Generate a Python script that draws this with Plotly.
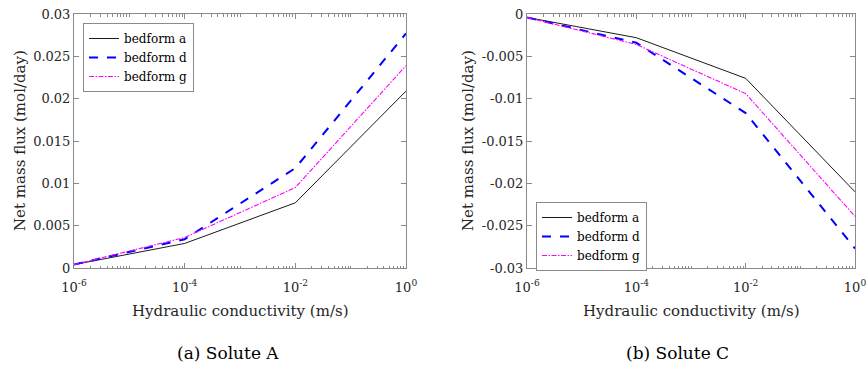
import plotly.graph_objects as go

# ---- data ----
K = [1e-6, 1e-4, 1e-2, 1e0]
series_names = ["bedform a", "bedform d", "bedform g"]
soluteA = {
    "bedform a": [0.0004, 0.0029, 0.0077, 0.0209],
    "bedform d": [0.0004, 0.0034, 0.0118, 0.0277],
    "bedform g": [0.0004, 0.0036, 0.0095, 0.0239],
}
soluteC = {
    "bedform a": [-0.0004, -0.0028, -0.0076, -0.0210],
    "bedform d": [-0.0004, -0.0034, -0.0117, -0.0277],
    "bedform g": [-0.0004, -0.0036, -0.0094, -0.0239],
}
x_tickvals = [1e-6, 1e-4, 1e-2, 1e0]
x_ticktext = ["10<sup>-6</sup>", "10<sup>-4</sup>", "10<sup>-2</sup>", "10<sup>0</sup>"]
yA_tickvals = [0, 0.005, 0.01, 0.015, 0.02, 0.025, 0.03]
yA_ticktext = ["0", "0.005", "0.01", "0.015", "0.02", "0.025", "0.03"]
yC_tickvals = [-0.03, -0.025, -0.02, -0.015, -0.01, -0.005, 0]
yC_ticktext = ["-0.03", "-0.025", "-0.02", "-0.015", "-0.01", "-0.005", "0"]
captions = ["(a) Solute A", "(b) Solute C"]
x_title = "Hydraulic conductivity (m/s)"
y_title = "Net mass flux (mol/day)"

# ---- styles ----
FONT = "DejaVu Serif, serif"
TXT = "#262626"
AX = "#8a8a8a"
styles = {
    "bedform a": dict(color="black", width=0.9, dash="solid"),
    "bedform d": dict(color="#0000ff", width=2, dash="dash"),
    "bedform g": dict(color="rgb(255,0,255)", width=1.1, dash="5px,1.5px,1.5px,1.5px"),
}

W, H = 868, 366
def px(x): return x / W
def py(y): return 1 - y / H

fig = go.Figure()
for name in series_names:
    fig.add_trace(go.Scatter(x=K, y=soluteA[name], mode="lines", name=name,
                             line=styles[name], xaxis="x", yaxis="y",
                             legend="legend2", legendgroup="A"))
for name in series_names:
    fig.add_trace(go.Scatter(x=K, y=soluteC[name], mode="lines", name=name,
                             line=styles[name], xaxis="x2", yaxis="y2",
                             legend="legend", legendgroup="C"))

minor_vals = [k * 10.0 ** e for e in range(-6, 0) for k in range(2, 10)] + [1e-5, 1e-3, 1e-1]

def xax(domain, anchor):
    return dict(type="log", range=[-6, 0], domain=domain, anchor=anchor,
                tickmode="array", tickvals=x_tickvals, ticktext=x_ticktext,
                ticks="inside", ticklen=5, tickcolor=AX, showline=True, linecolor=AX,
                linewidth=1, mirror="allticks", showgrid=False, zeroline=False,
                ticklabelstandoff=7,
                tickfont=dict(family=FONT, size=13, color=TXT),
                minor=dict(tickmode="array", tickvals=minor_vals, ticks="inside",
                           ticklen=2.5, tickcolor=AX, showgrid=False),
                automargin=False)

def yax(domain, anchor, rng, tv, tt):
    return dict(range=rng, domain=domain, anchor=anchor, tickmode="array",
                tickvals=tv, ticktext=tt, ticks="inside", ticklen=5, tickcolor=AX,
                showline=True, linecolor=AX, linewidth=1, mirror="allticks",
                showgrid=False, zeroline=False,
                tickfont=dict(family=FONT, size=13, color=TXT), automargin=False)

ydom = [py(268), py(14)]
fig.update_layout(
    width=W, height=H, margin=dict(l=0, r=0, t=0, b=0),
    paper_bgcolor="white", plot_bgcolor="white",
    xaxis=xax([px(74), px(406)], "y"),
    yaxis=yax(ydom, "x", [0, 0.03], yA_tickvals, yA_ticktext),
    xaxis2=xax([px(527), px(855)], "y2"),
    yaxis2=yax(ydom, "x2", [-0.03, 0], yC_tickvals, yC_ticktext),
    legend2=dict(x=px(83), y=py(23), xanchor="left", yanchor="top",
                 bgcolor="white", bordercolor=AX, borderwidth=1,
                 font=dict(family=FONT, size=12, color="black"), tracegroupgap=0),
    legend=dict(x=px(536), y=py(202), xanchor="left", yanchor="top",
                bgcolor="white", bordercolor=AX, borderwidth=1,
                font=dict(family=FONT, size=12, color="black"), tracegroupgap=0),
    showlegend=True,
)

ann = []
for cx in [240, 691]:
    ann.append(dict(text=x_title, x=px(cx), y=py(311), xref="paper", yref="paper",
                    showarrow=False, xanchor="center", yanchor="middle",
                    font=dict(family=FONT, size=15, color=TXT)))
for cx in [20, 468]:
    ann.append(dict(text=y_title, x=px(cx), y=py(141), xref="paper", yref="paper",
                    showarrow=False, xanchor="center", yanchor="middle", textangle=-90,
                    font=dict(family=FONT, size=15, color=TXT)))
for cx, cap in zip([228, 677], captions):
    ann.append(dict(text=cap, x=px(cx), y=py(353), xref="paper", yref="paper",
                    showarrow=False, xanchor="center", yanchor="middle",
                    font=dict(family=FONT, size=17, color="black")))
fig.update_layout(annotations=ann)

fig.write_html("out.html")
